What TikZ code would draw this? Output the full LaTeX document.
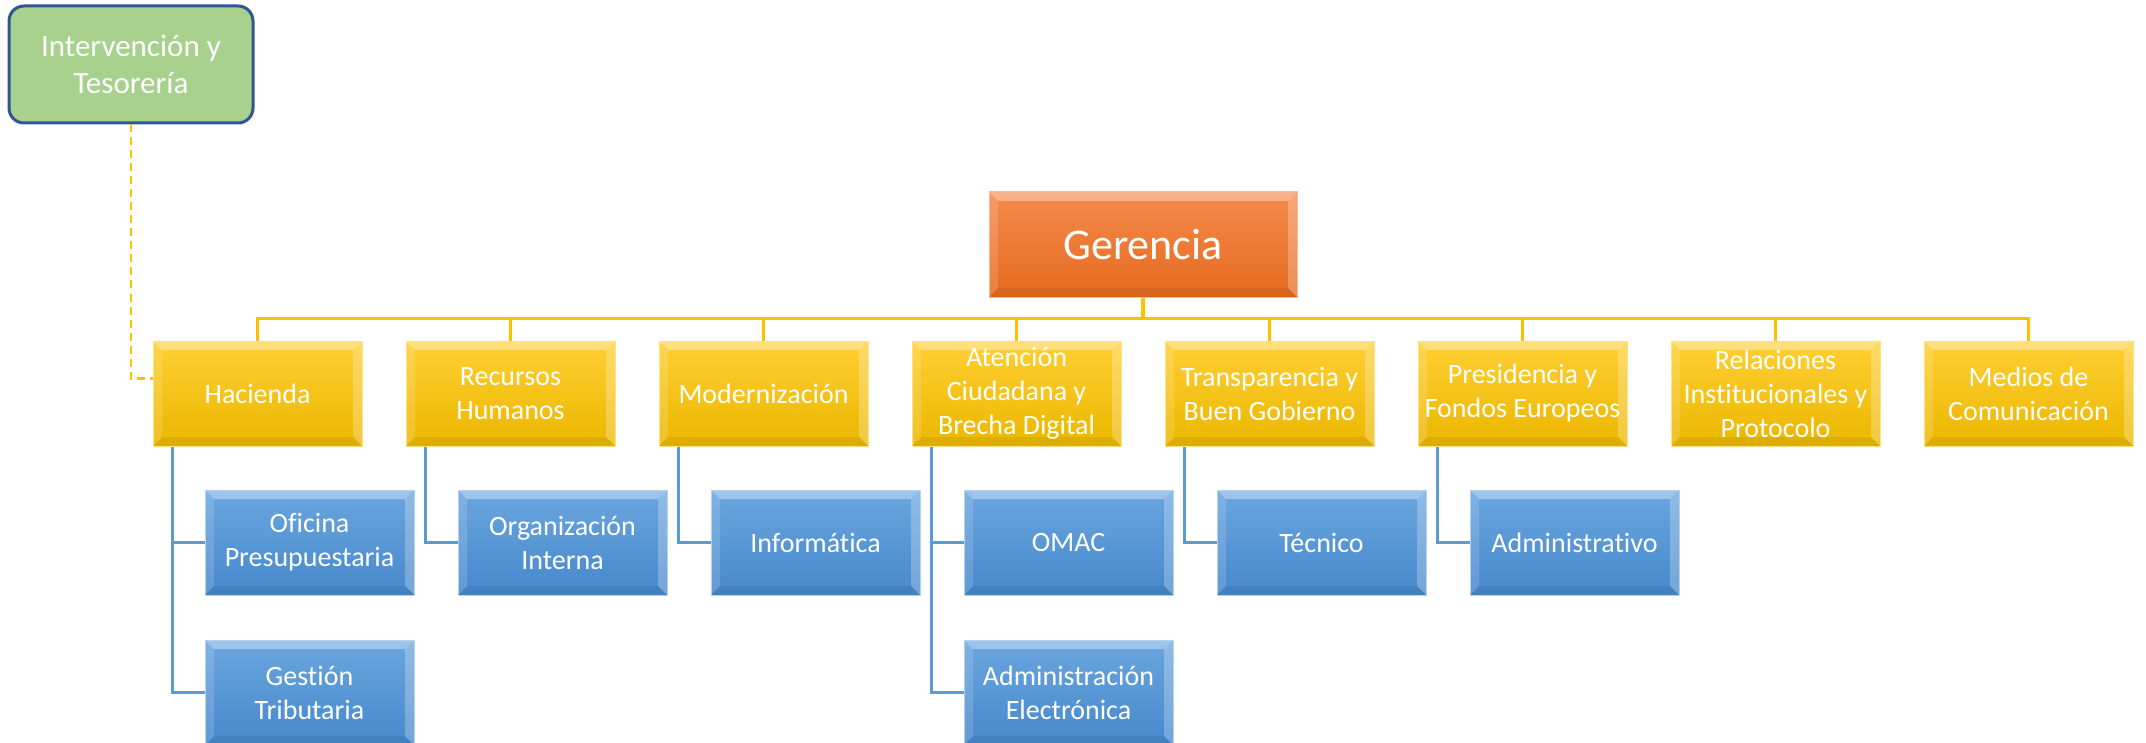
\documentclass[tikz,border=0pt]{standalone}
\usepackage{fontspec}
\setmainfont{Carlito}[Ligatures=NoCommon]
\usetikzlibrary{positioning}
\definecolor{goldtop}{HTML}{FFCF33}
\definecolor{goldbot}{HTML}{EBB700}
\definecolor{goldline}{HTML}{FFC000}
\definecolor{bluetop}{HTML}{6AA6DF}
\definecolor{bluebot}{HTML}{4788CC}
\definecolor{blueline}{HTML}{5B9BD5}
\definecolor{orangetop}{HTML}{F58B4C}
\definecolor{orangebot}{HTML}{E56A1E}
\definecolor{staffgreen}{HTML}{A9D18E}
\definecolor{staffblue}{HTML}{2F5597}
\tikzset{
	bevel/.style={path picture={
		\fill[white,opacity=.35] (path picture bounding box.north west) -- (path picture bounding box.north east)
			-- ([shift={(-9pt,-9pt)}]path picture bounding box.north east) -- ([shift={(9pt,-9pt)}]path picture bounding box.north west) -- cycle;
		\fill[white,opacity=.15] (path picture bounding box.north west) -- ([shift={(9pt,-9pt)}]path picture bounding box.north west)
			-- ([shift={(9pt,9pt)}]path picture bounding box.south west) -- (path picture bounding box.south west) -- cycle;
		\fill[white,opacity=.25] (path picture bounding box.north east) -- ([shift={(-9pt,-9pt)}]path picture bounding box.north east)
			-- ([shift={(-9pt,9pt)}]path picture bounding box.south east) -- (path picture bounding box.south east) -- cycle;
		\fill[black,opacity=.06] (path picture bounding box.south west) -- ([shift={(9pt,9pt)}]path picture bounding box.south west)
			-- ([shift={(-9pt,9pt)}]path picture bounding box.south east) -- (path picture bounding box.south east) -- cycle;
	}},
	box/.style={minimum width=209pt,minimum height=105pt,inner sep=0pt,align=center,text=white,font=\fontsize{28}{34}\selectfont},
	area/.style={box,top color=goldtop,bottom color=goldbot,draw=goldtop!60!white,line width=1pt,bevel},
	unit/.style={box,top color=bluetop,bottom color=bluebot,draw=bluetop!50!white,line width=1pt,bevel},
	boss/.style={box,minimum width=308pt,font=\fontsize{44}{52}\selectfont,top color=orangetop,bottom color=orangebot,draw=orangetop!60!white,line width=1pt,bevel},
	staff/.style={box,minimum width=244pt,minimum height=117pt,font=\fontsize{31}{37}\selectfont,fill=staffgreen,draw=staffblue,line width=3pt,rounded corners=15pt},
	subline/.style={draw=blueline,line width=3pt},
	staffline/.style={draw=goldline,line width=2.5pt,dash pattern=on 8pt off 5pt}
}
\begin{document}
\begin{tikzpicture}[x=1pt,y=1pt,level distance=149pt,sibling distance=253pt,
	edge from parent/.style={draw=goldline,line width=3.5pt},
	edge from parent path={(\tikzparentnode.south) -- ++(0,-21) -| (\tikzchildnode.north)}]
	
	\useasboundingbox (0,0) rectangle (2146,-743);
	
	\node[boss] (ger) at (1143,-244.5) {Gerencia}
		child{node[area] (hac) {Hacienda}}
		child{node[area] (rrhh) {Recursos\\Humanos}}
		child{node[area] (mod) {Modernización}}
		child{node[area] (aten) {Atención\\Ciudadana y\\Brecha Digital}}
		child{node[area] (trans) {Transparencia y\\Buen Gobierno}}
		child{node[area] (pres) {Presidencia y\\Fondos Europeos}}
		child{node[area] (rel) {Relaciones\\Institucionales y\\Protocolo}}
		child{node[area] (med) {Medios de\\Comunicación}};
	
	% units under each area
	\node[unit,below=43pt of hac,xshift=52pt] (ofi) {Oficina\\Presupuestaria};
	\node[unit,below=44pt of ofi] (gest) {Gestión\\Tributaria};
	\node[unit,below=43pt of rrhh,xshift=52pt] (org) {Organización\\Interna};
	\node[unit,below=43pt of mod,xshift=52pt] (inf) {Informática};
	\node[unit,below=43pt of aten,xshift=52pt] (omac) {OMAC};
	\node[unit,below=44pt of omac] (adm) {Administración\\Electrónica};
	\node[unit,below=43pt of trans,xshift=52pt] (tec) {Técnico};
	\node[unit,below=43pt of pres,xshift=52pt] (admtvo) {Administrativo};
	
	\draw[subline] ([xshift=20pt]hac.south west) |- (ofi.west);
	\draw[subline] ([xshift=20pt]hac.south west) |- (gest.west);
	\draw[subline] ([xshift=20pt]rrhh.south west) |- (org.west);
	\draw[subline] ([xshift=20pt]mod.south west) |- (inf.west);
	\draw[subline] ([xshift=20pt]aten.south west) |- (omac.west);
	\draw[subline] ([xshift=20pt]aten.south west) |- (adm.west);
	\draw[subline] ([xshift=20pt]trans.south west) |- (tec.west);
	\draw[subline] ([xshift=20pt]pres.south west) |- (admtvo.west);
	
	\node[staff] (int) at (131,-64.5) {Intervención y\\Tesorería};
	\draw[staffline] (int.south) |- ([yshift=15pt]hac.west);
	
\end{tikzpicture}
\end{document}
